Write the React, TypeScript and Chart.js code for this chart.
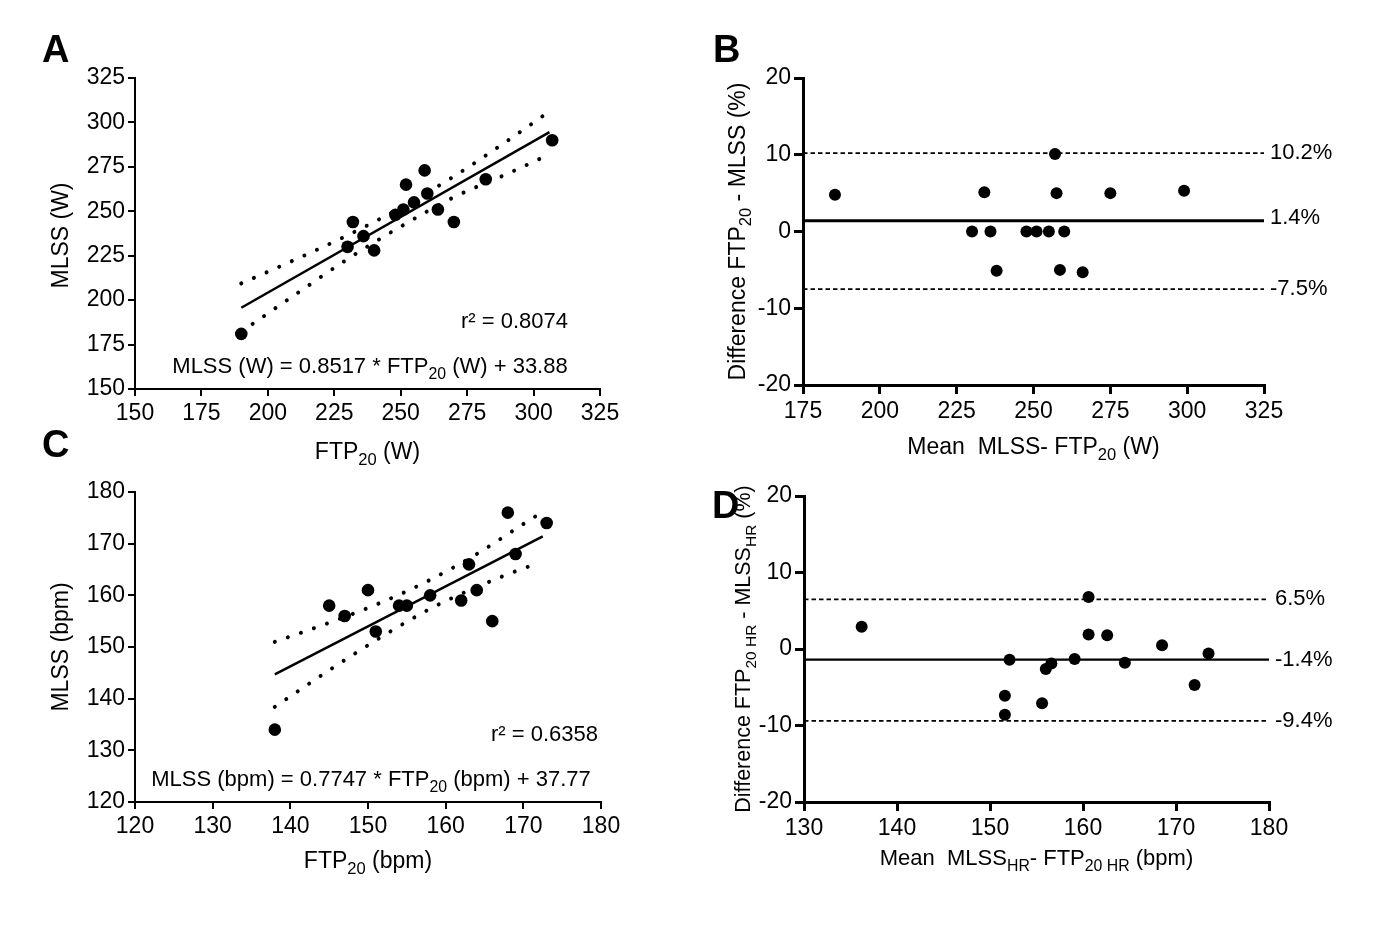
import React, { useEffect, useRef } from 'react';
import { Chart, registerables } from 'chart.js';

Chart.register(...registerables);

const FONT = "'Liberation Sans', Arial, Helvetica, sans-serif";
const W = 1378;
const H = 926;

// ---------- Panel A: MLSS vs FTP20 (W) ----------
const A_FTP = [190, 230, 232, 236, 240, 248, 251, 252, 255, 259, 260, 264, 270, 282, 307];
const A_MLSS = [181, 230, 244, 236, 228, 248, 251, 265, 255, 273, 260, 251, 244, 268, 290];
const A_FIT_X = [190, 306];
const A_FIT_Y = [195.7, 294.5];
const A_BAND_X = [190, 210, 230, 250, 270, 290, 306];
const A_UPPER = [209.4, 222.6, 236.5, 252.0, 269.6, 289.5, 306.3];
const A_LOWER = [182.2, 202.8, 223.1, 241.4, 257.9, 271.0, 282.0];

// ---------- Panel B: Bland-Altman (W) ----------
const B_MEAN = [185.4, 230, 234, 236, 238, 247.7, 251, 255, 257, 257.5, 258.6, 260, 266, 275, 299];
const B_DIFF = [4.8, 0, 5.1, 0, -5.1, 0, 0, 0, 10.1, 5, -5, 0, -5.3, 5, 5.3];
const B_BIAS = 1.4;
const B_LOA = [10.2, -7.5];

// ---------- Panel C: MLSS vs FTP20 (bpm) ----------
const C_FTP = [138, 145, 147, 150, 151, 154, 155, 158, 162, 163, 164, 166, 168, 169, 173];
const C_MLSS = [134, 158, 156, 161, 153, 158, 158, 160, 159, 166, 161, 155, 176, 168, 174];
const C_FIT_X = [138, 172.5];
const C_FIT_Y = [144.7, 171.4];
const C_BAND_X = [138, 145, 152, 158, 164, 170, 172];
const C_UPPER = [151.0, 154.7, 158.8, 163.0, 168.0, 173.8, 175.7];
const C_LOWER = [138.4, 145.5, 152.2, 157.4, 161.6, 165.2, 166.2];

// ---------- Panel D: Bland-Altman (bpm) ----------
const D_MEAN = [136.2, 151.6, 151.6, 152.1, 155.6, 156, 156.6, 159.1, 160.6, 160.6, 162.6, 164.5, 168.5, 172, 173.5];
const D_DIFF = [2.9, -6.1, -8.6, -1.4, -7.1, -2.6, -1.9, -1.3, 6.8, 1.9, 1.8, -1.8, 0.5, -4.7, -0.6];
const D_BIAS = -1.4;
const D_LOA = [6.5, -9.4];

type Seg = { t: string; sub?: boolean };
type TextItem = {
  segs: Seg[];
  x: number;
  y: number;
  size: number;
  align?: 'left' | 'center' | 'right';
  rot?: number;
  bold?: boolean;
  baseline?: CanvasTextBaseline;
};

const S = (t: string): Seg => ({ t });
const SUB = (t: string): Seg => ({ t, sub: true });

function drawRich(ctx: CanvasRenderingContext2D, it: TextItem) {
  const weight = it.bold ? 'bold ' : '';
  const fontFor = (s: Seg) => `${weight}${s.sub ? it.size * 0.72 : it.size}px ${FONT}`;
  let total = 0;
  const widths = it.segs.map((s) => {
    ctx.font = fontFor(s);
    const w = ctx.measureText(s.t).width;
    total += w;
    return w;
  });
  ctx.save();
  ctx.translate(it.x, it.y);
  if (it.rot) ctx.rotate(it.rot);
  ctx.fillStyle = '#000';
  ctx.textAlign = 'left';
  ctx.textBaseline = it.baseline || 'alphabetic';
  let cx = it.align === 'center' ? -total / 2 : it.align === 'right' ? -total : 0;
  it.segs.forEach((s, i) => {
    ctx.font = fontFor(s);
    ctx.fillText(s.t, cx, s.sub ? it.size * 0.27 : 0);
    cx += widths[i];
  });
  ctx.restore();
}

const pts = (xs: number[], ys: number[]) => xs.map((x, i) => ({ x, y: ys[i] }));

type Spec = {
  left: number; top: number; right: number; bottom: number;
  xMin: number; xMax: number; xStep: number;
  yMin: number; yMax: number; yStep: number;
  axisW: number; tickLen: number;
  datasets: any[];
  texts: (c: any) => TextItem[];
};

function scatterSet(xs: number[], ys: number[], r: number) {
  return {
    data: pts(xs, ys),
    showLine: false,
    pointRadius: r,
    pointHoverRadius: r,
    backgroundColor: '#000',
    borderColor: '#000',
    borderWidth: 0,
    order: 0,
  };
}

function lineSet(xs: number[], ys: number[], width: number, dash: number[] = [], smooth = false) {
  return {
    data: pts(xs, ys),
    showLine: true,
    pointRadius: 0,
    borderColor: '#000',
    backgroundColor: '#000',
    borderWidth: width,
    borderDash: dash,
    borderCapStyle: dash.length && dash[0] < 1 ? 'round' : 'butt',
    cubicInterpolationMode: smooth ? 'monotone' : 'default',
    tension: 0,
    fill: false,
    order: 1,
  };
}

function makeConfig(spec: Spec): any {
  const YW = 80;
  const XH = 60;
  const tickFont = { family: FONT, size: 23 };
  return {
    type: 'scatter',
    data: { datasets: spec.datasets },
    options: {
      responsive: false,
      animation: false,
      events: [],
      layout: {
        padding: {
          left: spec.left - YW,
          right: W - spec.right,
          top: spec.top,
          bottom: H - spec.bottom - XH,
        },
      },
      plugins: { legend: { display: false }, tooltip: { enabled: false }, title: { display: false } },
      scales: {
        x: {
          type: 'linear',
          position: 'bottom',
          min: spec.xMin,
          max: spec.xMax,
          afterFit: (s: any) => { s.height = XH; },
          ticks: { stepSize: spec.xStep, font: tickFont, color: '#000', padding: 4, maxRotation: 0, autoSkip: false },
          grid: { display: true, drawOnChartArea: false, drawTicks: true, tickLength: spec.tickLen, color: '#000', lineWidth: spec.axisW },
          border: { display: true, color: '#000', width: spec.axisW },
        },
        y: {
          type: 'linear',
          position: 'left',
          min: spec.yMin,
          max: spec.yMax,
          afterFit: (s: any) => { s.width = YW; },
          ticks: { stepSize: spec.yStep, font: tickFont, color: '#000', padding: 3, autoSkip: false },
          grid: { display: true, drawOnChartArea: false, drawTicks: true, tickLength: spec.tickLen, color: '#000', lineWidth: spec.axisW },
          border: { display: true, color: '#000', width: spec.axisW },
        },
      },
    },
    plugins: [
      {
        id: 'richText',
        afterDraw(chart: any) {
          const ctx = chart.ctx as CanvasRenderingContext2D;
          spec.texts(chart).forEach((t) => drawRich(ctx, t));
        },
      },
    ],
  };
}

const DOTS = [0.01, 13.8];
const DASH = [4.5, 3];

const SPECS: Spec[] = [
  {
    left: 135, right: 600, top: 78, bottom: 389,
    xMin: 150, xMax: 325, xStep: 25, yMin: 150, yMax: 325, yStep: 25,
    axisW: 2, tickLen: 7,
    datasets: [
      scatterSet(A_FTP, A_MLSS, 6.3),
      lineSet(A_FIT_X, A_FIT_Y, 2.5),
      lineSet(A_BAND_X, A_UPPER, 4, DOTS, true),
      lineSet(A_BAND_X, A_LOWER, 4, DOTS, true),
    ],
    texts: (c) => {
      const a = c.chartArea;
      return [
        { segs: [S('A')], x: 42, y: 62, size: 38, bold: true },
        { segs: [S('MLSS (W)')], x: 68, y: (a.top + a.bottom) / 2 + 2, size: 23, align: 'center', rot: -Math.PI / 2 },
        { segs: [S('FTP'), SUB('20'), S(' (W)')], x: (a.left + a.right) / 2, y: 459, size: 23, align: 'center' },
        { segs: [S('r² = 0.8074')], x: 568, y: 328, size: 22, align: 'right' },
        { segs: [S('MLSS (W) = 0.8517 * FTP'), SUB('20'), S(' (W) + 33.88')], x: 370, y: 373, size: 22, align: 'center' },
      ];
    },
  },
  {
    left: 803, right: 1264, top: 78, bottom: 385,
    xMin: 175, xMax: 325, xStep: 25, yMin: -20, yMax: 20, yStep: 10,
    axisW: 3, tickLen: 9,
    datasets: [
      scatterSet(B_MEAN, B_DIFF, 6),
      lineSet([175, 325], [B_BIAS, B_BIAS], 3),
      lineSet([175, 325], [B_LOA[0], B_LOA[0]], 1.8, DASH),
      lineSet([175, 325], [B_LOA[1], B_LOA[1]], 1.8, DASH),
    ],
    texts: (c) => {
      const a = c.chartArea;
      const ys = c.scales.y;
      const lx = a.right + 6;
      return [
        { segs: [S('B')], x: 713, y: 62, size: 38, bold: true },
        { segs: [S('Difference FTP'), SUB('20'), S(' - MLSS (%)')], x: 745, y: (a.top + a.bottom) / 2, size: 23, align: 'center', rot: -Math.PI / 2 },
        { segs: [S('Mean  MLSS- FTP'), SUB('20'), S(' (W)')], x: (a.left + a.right) / 2, y: 454, size: 23, align: 'center' },
        { segs: [S(B_LOA[0].toFixed(1) + '%')], x: lx, y: ys.getPixelForValue(B_LOA[0]), size: 22, baseline: 'middle' },
        { segs: [S(B_BIAS.toFixed(1) + '%')], x: lx, y: ys.getPixelForValue(B_BIAS) - 3, size: 22, baseline: 'middle' },
        { segs: [S(B_LOA[1].toFixed(1) + '%')], x: lx, y: ys.getPixelForValue(B_LOA[1]), size: 22, baseline: 'middle' },
      ];
    },
  },
  {
    left: 135, right: 601, top: 492, bottom: 802,
    xMin: 120, xMax: 180, xStep: 10, yMin: 120, yMax: 180, yStep: 10,
    axisW: 2, tickLen: 7,
    datasets: [
      scatterSet(C_FTP, C_MLSS, 6.3),
      lineSet(C_FIT_X, C_FIT_Y, 2.5),
      lineSet(C_BAND_X, C_UPPER, 4, DOTS, true),
      lineSet(C_BAND_X, C_LOWER, 4, DOTS, true),
    ],
    texts: (c) => {
      const a = c.chartArea;
      return [
        { segs: [S('C')], x: 42, y: 457, size: 38, bold: true },
        { segs: [S('MLSS (bpm)')], x: 68, y: (a.top + a.bottom) / 2, size: 23, align: 'center', rot: -Math.PI / 2 },
        { segs: [S('FTP'), SUB('20'), S(' (bpm)')], x: (a.left + a.right) / 2, y: 868, size: 23, align: 'center' },
        { segs: [S('r² = 0.6358')], x: 598, y: 741, size: 22, align: 'right' },
        { segs: [S('MLSS (bpm) = 0.7747 * FTP'), SUB('20'), S(' (bpm) + 37.77')], x: 371, y: 786, size: 22, align: 'center' },
      ];
    },
  },
  {
    left: 804, right: 1269, top: 496, bottom: 802,
    xMin: 130, xMax: 180, xStep: 10, yMin: -20, yMax: 20, yStep: 10,
    axisW: 3, tickLen: 9,
    datasets: [
      scatterSet(D_MEAN, D_DIFF, 6),
      lineSet([130, 180], [D_BIAS, D_BIAS], 2.2),
      lineSet([130, 180], [D_LOA[0], D_LOA[0]], 1.8, DASH),
      lineSet([130, 180], [D_LOA[1], D_LOA[1]], 1.8, DASH),
    ],
    texts: (c) => {
      const a = c.chartArea;
      const ys = c.scales.y;
      const lx = a.right + 6;
      return [
        { segs: [S('D')], x: 712, y: 518, size: 38, bold: true },
        { segs: [S('Difference FTP'), SUB('20 HR'), S(' - MLSS'), SUB('HR'), S(' (%)')], x: 750, y: (a.top + a.bottom) / 2, size: 21.5, align: 'center', rot: -Math.PI / 2 },
        { segs: [S('Mean  MLSS'), SUB('HR'), S('- FTP'), SUB('20 HR'), S(' (bpm)')], x: (a.left + a.right) / 2, y: 865, size: 22, align: 'center' },
        { segs: [S(D_LOA[0].toFixed(1) + '%')], x: lx, y: ys.getPixelForValue(D_LOA[0]), size: 22, baseline: 'middle' },
        { segs: [S(D_BIAS.toFixed(1) + '%')], x: lx, y: ys.getPixelForValue(D_BIAS), size: 22, baseline: 'middle' },
        { segs: [S(D_LOA[1].toFixed(1) + '%')], x: lx, y: ys.getPixelForValue(D_LOA[1]), size: 22, baseline: 'middle' },
      ];
    },
  },
];

function Panel({ spec }: { spec: Spec }) {
  const ref = useRef<HTMLCanvasElement>(null);
  useEffect(() => {
    const chart = new Chart(ref.current as HTMLCanvasElement, makeConfig(spec));
    return () => chart.destroy();
  }, [spec]);
  return (
    <canvas
      ref={ref}
      width={W}
      height={H}
      style={{ position: 'absolute', left: 0, top: 0, width: W, height: H }}
    />
  );
}

export default function App() {
  return (
    <div style={{ position: 'absolute', left: 0, top: 0, width: W, height: H, background: '#fff', overflow: 'hidden' }}>
      {SPECS.map((s, i) => (
        <Panel key={i} spec={s} />
      ))}
    </div>
  );
}
